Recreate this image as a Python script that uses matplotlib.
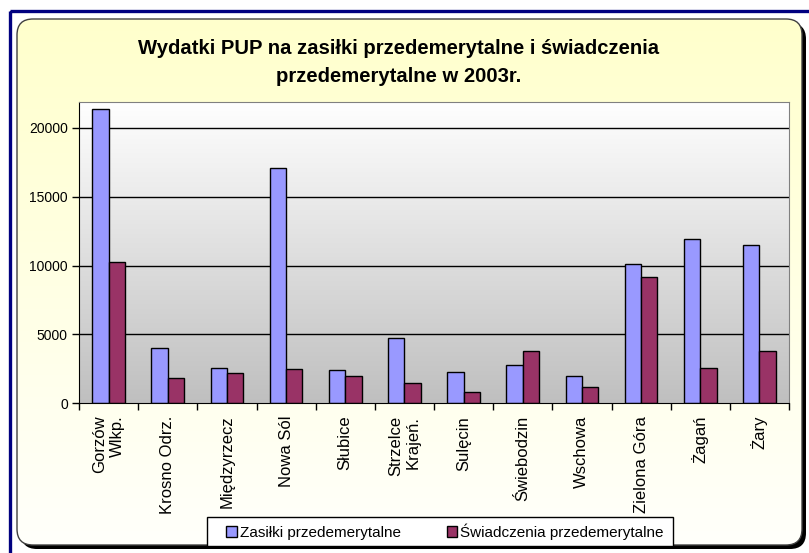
import matplotlib
matplotlib.use("Agg")
import matplotlib.pyplot as plt
import numpy as np
from matplotlib.patches import FancyBboxPatch, Rectangle

# data
categories = ["Gorzów\nWlkp.", "Krosno Odrz.", "Międzyrzecz", "Nowa Sól", "Słubice",
              "Strzelce\nKrajeń.", "Sulęcin", "Świebodzin", "Wschowa", "Zielona Góra",
              "Żagań", "Żary"]
zasilki = [21350, 4040, 2540, 17100, 2420, 4720, 2300, 2780, 1980, 10140, 11950, 11490]
swiadczenia = [10240, 1860, 2200, 2510, 1980, 1500, 820, 3800, 1180, 9190, 2540, 3800]
series_names = ["Zasiłki przedemerytalne", "Świadczenia przedemerytalne"]
y_ticks = [0, 5000, 10000, 15000, 20000]

W, H = 809, 553
fig = plt.figure(figsize=(W / 100, H / 100), dpi=100)
fig.patch.set_facecolor("white")

# background decorations in pixel coordinates
bg = fig.add_axes([0, 0, 1, 1])
bg.set_xlim(0, W)
bg.set_ylim(H, 0)
bg.axis("off")
bg.add_patch(Rectangle((10, 11), 900, 700, fill=False, edgecolor="#000080", lw=2.4))
shadow = FancyBboxPatch((21, 23), 785, 526, boxstyle="round,pad=0,rounding_size=16",
                        facecolor="black", edgecolor="black", lw=0)
bg.add_patch(shadow)
card = FancyBboxPatch((17, 19), 785, 526, boxstyle="round,pad=0,rounding_size=16",
                      facecolor="none", edgecolor="#404040", lw=1.0, zorder=3)
bg.add_patch(card)
grad = np.linspace(0, 1, 256)[:, None]
top_c = np.array([1.0, 1.0, 0.80])
bot_c = np.array([1.0, 1.0, 0.985])
img = top_c + (bot_c - top_c) * grad[:, :, None]
im = bg.imshow(img, extent=(17, 802, 545, 19), aspect="auto", zorder=2)
im.set_clip_path(card)
# legend box
bg.add_patch(Rectangle((207, 517), 466, 29, facecolor="white", edgecolor="black",
                       lw=1.0, zorder=4))

fig.text(0.493, 1 - 62 / H, "Wydatki PUP na zasiłki przedemerytalne i świadczenia\nprzedemerytalne w 2003r.",
         ha="center", va="center", fontsize=14.6, fontweight="bold", family="Liberation Sans",
         linespacing=1.6)

# main plot
ax = fig.add_axes([79 / W, 1 - 403.3 / H, 710 / W, 301.6 / H])
x = np.arange(len(categories))
ymax = 21900
ax.set_xlim(-0.5, len(categories) - 0.5)
ax.set_ylim(0, ymax)
pg = np.linspace(1.0, 0.75, 256)[:, None]
ax.imshow(np.dstack([pg, pg, pg]), extent=(-0.5, len(categories) - 0.5, 0, ymax),
          aspect="auto", zorder=0)
for yv in y_ticks[1:]:
    ax.axhline(yv, color="black", lw=1.0, zorder=1)

bw = 0.275
ax.bar(x - bw / 2, zasilki, bw, color="#9999FF", edgecolor="black", lw=1.0, zorder=2,
       label=series_names[0])
ax.bar(x + bw / 2, swiadczenia, bw, color="#993366", edgecolor="black", lw=1.0, zorder=2,
       label=series_names[1])

for s in ["top", "right"]:
    ax.spines[s].set_color("#808080")
ax.spines["left"].set_color("black")
ax.spines["bottom"].set_color("black")

ax.set_yticks(y_ticks)
ax.set_yticklabels([str(v) for v in y_ticks], fontsize=10, family="Liberation Sans")
ax.tick_params(axis="y", length=5, width=1, pad=3)

ax.set_xticks(x)
ax.set_xticklabels(categories, rotation=90, fontsize=12, family="Liberation Sans",
                   ha="center", va="top", multialignment="right")
ax.set_xticks(np.arange(-0.5, len(categories), 1), minor=True)
ax.tick_params(axis="x", which="major", length=0, pad=9)
ax.tick_params(axis="x", which="minor", length=5, width=1)

leg = fig.legend(loc="center left", bbox_to_anchor=(226 / W, 1 - 531.5 / H),
                 ncol=2, frameon=False, prop={"family": "Liberation Sans", "size": 11},
                 handlelength=0.7, handleheight=0.7, handletextpad=0.2,
                 columnspacing=3.0, borderaxespad=0, borderpad=0)

fig.savefig("out.png", dpi=100)
